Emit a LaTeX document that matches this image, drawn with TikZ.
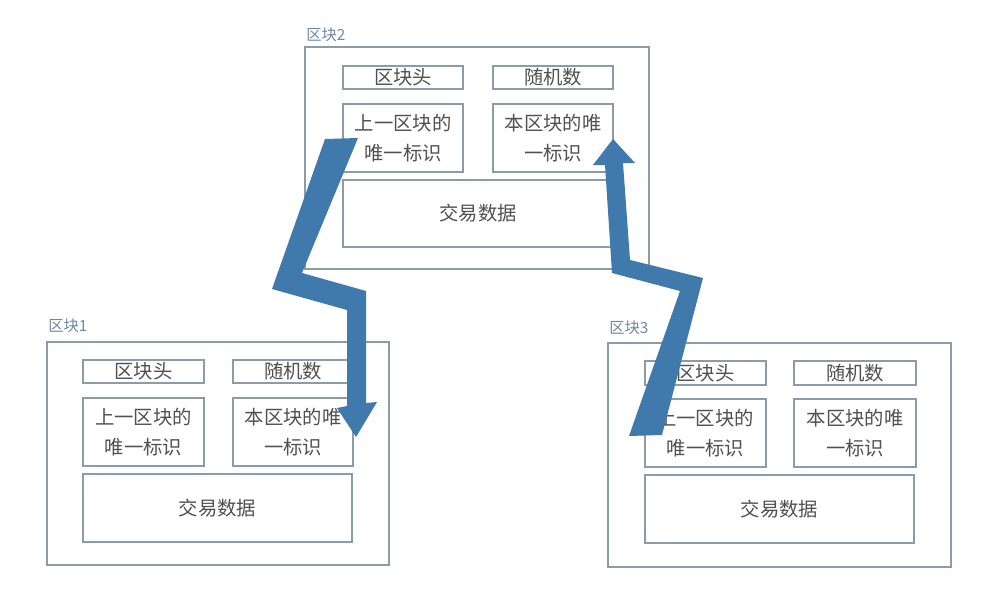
\documentclass[tikz,border=0pt]{standalone}
\usepackage{fontspec}
\setmainfont{Noto Sans CJK SC}
\definecolor{boxline}{HTML}{8A9BAB}
\definecolor{txt}{HTML}{505050}
\definecolor{lbl}{HTML}{6F88A3}
\definecolor{arrowblue}{HTML}{4079AB}
\begin{document}
\begin{tikzpicture}[x=0.75pt,y=-0.75pt,
  box/.style={draw=boxline,line width=1.2pt,anchor=north west,outer sep=0pt,inner sep=0pt,
     align=center,text=txt,font=\fontsize{14.5}{22}\selectfont},
  blocklbl/.style={anchor=west,inner sep=0pt,text=lbl,font=\fontsize{11.5}{13}\selectfont},
  bigarrow/.style={fill=arrowblue,draw=none}]
\useasboundingbox (0,0) rectangle (992,596);
\fill[white] (0,0) rectangle (992,596);
% Block 2
\node[blocklbl] (l2) at (306,35) {区块2};
\node[box,minimum width=258pt,minimum height=166.5pt] (b2) at (305,47) {};
\node[box,minimum width=90pt,minimum height=17.25pt] (b2h) at (343,66) {区块头};
\node[box,minimum width=90pt,minimum height=17.25pt] (b2r) at (493,66) {随机数};
\node[box,minimum width=90pt,minimum height=51pt] (b2p) at (343,104) {上一区块的\\唯一标识};
\node[box,minimum width=90pt,minimum height=51pt] (b2c) at (493,104) {本区块的唯\\一标识};
\node[box,minimum width=202.5pt,minimum height=50.25pt] (b2t) at (343,180) {交易数据};
% Block 1
\node[blocklbl] (l1) at (48,326) {区块1};
\node[box,minimum width=256.5pt,minimum height=167.25pt] (b1) at (47,342) {};
\node[box,minimum width=90.75pt,minimum height=17.25pt] (b1h) at (83,360) {区块头};
\node[box,minimum width=90pt,minimum height=17.25pt] (b1r) at (233,360) {随机数};
\node[box,minimum width=90.75pt,minimum height=51pt] (b1p) at (83,398) {上一区块的\\唯一标识};
\node[box,minimum width=90pt,minimum height=51pt] (b1c) at (233,398) {本区块的唯\\一标识};
\node[box,minimum width=201.75pt,minimum height=51pt] (b1t) at (83,474) {交易数据};
% Block 3
\node[blocklbl] (l3) at (609,328) {区块3};
\node[box,minimum width=257.25pt,minimum height=168pt] (b3) at (608,343) {};
\node[box,minimum width=90.75pt,minimum height=18pt] (b3h) at (645,361) {区块头};
\node[box,minimum width=91.5pt,minimum height=18pt] (b3r) at (794,361) {随机数};
\node[box,minimum width=90.75pt,minimum height=51pt] (b3p) at (645,399) {上一区块的\\唯一标识};
\node[box,minimum width=91.5pt,minimum height=51pt] (b3c) at (794,399) {本区块的唯\\一标识};
\node[box,minimum width=201.75pt,minimum height=51pt] (b3t) at (645,475) {交易数据};
% Arrow from block 2 down to block 1
\fill[bigarrow] (325,139) -- (358,138) -- (302,273) -- (366,291) -- (366,403)
  -- (377,402) -- (356,437) -- (337,408) -- (347,406) -- (347,310) -- (272,289) -- cycle;
% Arrow from block 3 up to block 2
\fill[bigarrow] (629,436) -- (680,291) -- (612,273) -- (605,165) -- (593,165)
  -- (613,139) -- (635,163) -- (623,163) -- (630,260) -- (703,278) -- (662,435) -- cycle;
\end{tikzpicture}
\end{document}
